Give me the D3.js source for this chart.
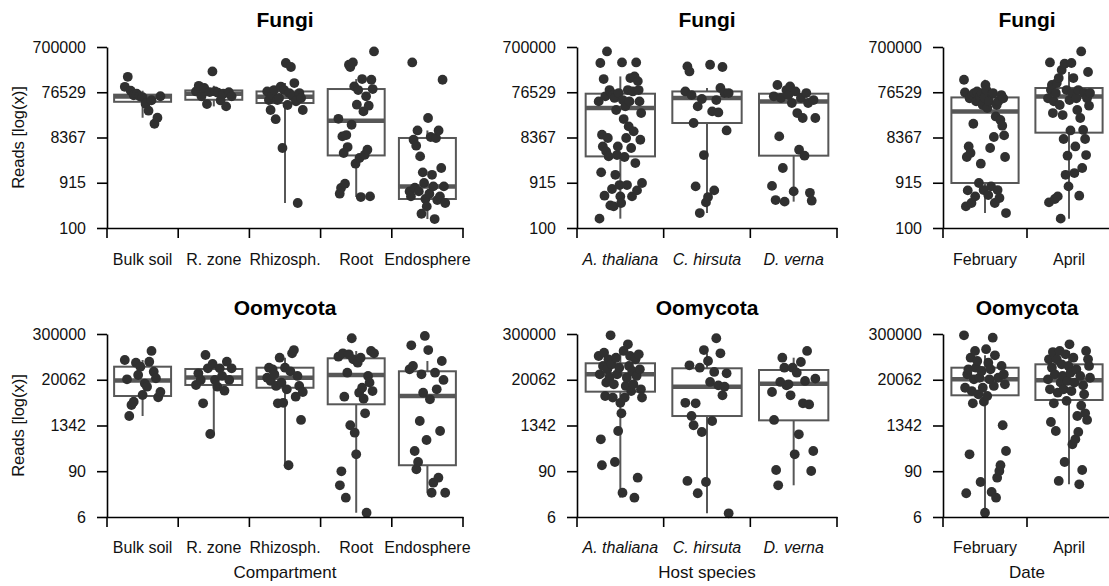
<!DOCTYPE html>
<html><head><meta charset="utf-8">
<script src="https://cdn.jsdelivr.net/npm/d3@7"></script>
<style>
body{margin:0;background:#fff}
svg{display:block}
text{font-family:"Liberation Sans",Arial,Helvetica,sans-serif}
</style>
</head><body>
<svg id="chart" width="1109" height="586"></svg>
<script>
// ---------- categories & tick labels ----------
const compartments = ["Bulk soil","R. zone","Rhizosph.","Root","Endosphere"];
const hosts = ["A. thaliana","C. hirsuta","D. verna"];
const dates = ["February","April"];
const fungiTicks = [100, 915, 8367, 76529, 700000];
const oomyTicks = [6, 90, 1342, 20062, 300000];

// ---------- reads per sample (listed in left-to-right jitter order) ----------
const fungiCompartment = [
  [100000,163000,82400,66000,71200,63000,60000,43600,31000,51700,16400,22000,63000],
  [79700,105000,62700,94200,43000,77000,212000,79700,74800,51300,71200,38300,77000,62700],
  [79600,52300,32100,66800,85300,20500,52300,57700,101000,5000,85300,320000,41000,73600,263000,62700,120000,48900,340,73600,57700,32100],
  [20900,536,708,8830,3920,873,9440,5250,294000,263000,15600,329000,102000,2320,41600,85300,3070,455,146000,30000,3600,62700,4600,39600,469,141000,89600,564000],
  [599,469,329000,7500,718,5600,11800,599,3320,201,1520,904,413,288,21700,536,8570,1350,765,155,8170,392,11800,469,1880,141000,765,340]
];
// box stats: [lower whisker, Q1, median, Q3, upper whisker]
const fungiCompartmentBox = [
  [22000,48000,62000,68000,82400],
  [38300,53000,71000,83600,105000],
  [340,45200,61500,79600,120000],
  [455,3480,19000,89600,146000],
  [155,413,765,8170,11800]
];

const fungiHost = [
  [48900,158,320000,1520,9600,5400,146000,485,62700,4240,564000,8170,3320,85300,302,73600,673,66800,288,58000,1350,32100,3550,5400,73600,817,469,340,329000,52300,20600,3220,38300,8170,817,85300,14400,48900,153000,5000,469,79600,11300,166000,2400,329000,629,132000,85300,48900,7500,27700,904],
  [79600,271000,212000,66800,17000,765,38300,208,55000,3550,350,455,294000,30000,629,52300,28500,94300,263000,73600,11800,73600],
  [784,62700,392,109000,8830,57700,1880,363,85300,66800,102000,45200,599,79600,27700,4600,57700,21700,3440,73600,45200,560,380,52300,21700]
];
const fungiHostBox = [
  [158,3320,35400,71300,166000],
  [208,17000,57700,79600,94300],
  [363,3440,48900,71300,109000]
];

const fungiDate = [
  [141000,75900,288,3220,629,5400,56900,3920,340,66800,16400,73600,469,48900,79600,52300,904,62000,2320,73600,41000,640,59000,109000,85300,35400,500,48900,5000,765,70000,73600,8570,340,23400,41000,640,50000,434,19700,66800,14900,56900,9270,3220,208],
  [56900,350,329000,85300,109000,27700,48900,413,73600,120000,469,153000,41000,158,227000,25100,7770,309000,1350,85300,3440,765,52300,11800,320000,73600,153000,1470,5400,56900,32100,85300,485,21700,564000,1880,12100,73600,7770,3550,56900,206000,39600,73600]
];
const fungiDateBox = [
  [208,904,30000,59400,141000],
  [158,10600,62400,94200,206000]
];

const oomyCompartment = [
  [64500,20600,2350,4510,5480,55000,26600,43400,8150,16000,13300,58300,110000,32300,21900,7110,9730],
  [14700,29400,19800,4990,86700,39500,811,50900,19800,13300,39500,25100,10500,58300,19800,39500],
  [22600,40900,18700,37200,27700,13900,4990,73900,16900,5130,40900,11400,128,33000,95900,116000,7360,25100,13900,1860,9730],
  [78500,39.1,89.5,95900,7360,18.8,30500,90400,1360,233000,67300,877,244,55000,9330,73900,12500,6550,2760,7.72,25100,16900,110000,10300,95900],
  [37200,154000,45300,297,101,155,1750,27700,9330,267000,569,116000,6310,25.2,45.6,30500,11400,61.2,968,60800,19800,25.2]
];
const oomyCompartmentBox = [
  [2350,7670,19200,43400,64500],
  [811,14700,22900,37900,58300],
  [128,12500,22600,40900,73900],
  [7.72,4700,26600,71300,110000],
  [25.2,128,7670,33100,60800]
];

const oomyHost = [
  [81700,27700,593,128,45300,99400,7670,16900,37200,67300,22600,278000,50000,7000,15300,155,73900,27700,968,40900,5130,2760,25.2,110000,7000,13900,22600,163000,45300,81700,10300,33700,15300,18.8,67300,25100,61.2,90400,37200,11400,7000],
  [5130,50.5,47200,2350,1360,4990,24.4,40900,914,116000,47.5,60800,17600,1750,31800,233000,14400,95900,8000,13300,29400,7.46],
  [9730,1860,96.6,39.1,17600,73900,40900,14400,15300,8000,40900,244,30500,798,57300,4990,18700,110000,4660,91,297,21400]
];
const oomyHostBox = [
  [18.8,9910,27700,53100,110000],
  [7.46,2350,13300,39500,95900],
  [39.1,1820,15900,35700,73900]
];

const oomyDate = [
  [278000,12500,24.4,27700,37200,244,73900,10300,4990,20600,110000,40900,60800,8490,22600,47.5,33700,12500,5500,7.72,122000,7670,55000,20600,37200,26.4,241000,13900,85100,18.8,61.2,22600,91,128,45300,1360,27700,15300,297],
  [20600,67300,11400,1650,40900,103000,4990,27700,968,67300,9330,50.5,110000,16900,50000,25100,11400,155,90400,5760,18700,45300,163000,30500,10300,441,73900,16900,593,37200,2350,914,41.5,25100,4350,96.6,14400,8490,2760,110000,1860,67300,45300,22600]
];
const oomyDateBox = [
  [7.72,8000,20600,40900,85100],
  [41.5,6060,19400,50000,110000]
];

// ---------- layout ----------
const svg = d3.select("#chart");
const FONT = '"Liberation Sans",Arial,Helvetica,sans-serif';
const BOX_COL = "#575757", PT_COL = "#303030";

const rows = {
  fungi: {domain:[100,700000], range:[228,47], ticks:fungiTicks, title:"Fungi", titleY:27, labelDy:37, xTitle:false},
  oomy:  {domain:[6,300000],   range:[517,334], ticks:oomyTicks, title:"Oomycota", titleY:315, labelDy:36.5, xTitle:true}
};
const cols = [
  {x0:107, x1:463, cats:compartments, xTitle:"Compartment", italic:false, yTitle:true},
  {x0:577, x1:837, cats:hosts, xTitle:"Host species", italic:true, yTitle:false},
  {x0:943, x1:1111, cats:dates, xTitle:"Date", italic:false, yTitle:false}
];
const panels = [
  {row:"fungi", col:0, pts:fungiCompartment, box:fungiCompartmentBox},
  {row:"fungi", col:1, pts:fungiHost, box:fungiHostBox},
  {row:"fungi", col:2, pts:fungiDate, box:fungiDateBox},
  {row:"oomy", col:0, pts:oomyCompartment, box:oomyCompartmentBox},
  {row:"oomy", col:1, pts:oomyHost, box:oomyHostBox},
  {row:"oomy", col:2, pts:oomyDate, box:oomyDateBox}
];

panels.forEach(p => {
  const R = rows[p.row], C = cols[p.col];
  const x = d3.scaleBand().domain(C.cats).range([C.x0, C.x1]).padding(0);
  const y = d3.scaleLog().domain(R.domain).range(R.range);
  const bw = x.bandwidth();
  const g = svg.append("g");
  const yBottom = R.range[0], yTop = R.range[1];

  // boxes
  C.cats.forEach((cat, ci) => {
    const [lo, q1, med, q3, hi] = p.box[ci];
    const cx = x(cat) + bw / 2;
    const half = bw * 0.4;
    const bg = g.append("g");
    bg.append("line").attr("x1", cx).attr("x2", cx).attr("y1", y(q1)).attr("y2", y(lo))
      .attr("stroke", BOX_COL).attr("stroke-width", 2);
    bg.append("line").attr("x1", cx).attr("x2", cx).attr("y1", y(q3)).attr("y2", y(hi))
      .attr("stroke", BOX_COL).attr("stroke-width", 2);
    bg.append("rect").attr("x", cx - half).attr("width", 2 * half)
      .attr("y", y(q3)).attr("height", Math.max(0.5, y(q1) - y(q3)))
      .attr("fill", "#fff").attr("stroke", BOX_COL).attr("stroke-width", 2);
    bg.append("line").attr("x1", cx - half).attr("x2", cx + half).attr("y1", y(med)).attr("y2", y(med))
      .attr("stroke", BOX_COL).attr("stroke-width", 4.5);
  });

  // jittered points
  C.cats.forEach((cat, ci) => {
    const vals = p.pts[ci];
    const n = vals.length;
    const cx = x(cat) + bw / 2;
    g.append("g").selectAll("circle").data(vals).join("circle")
      .attr("cx", (d, i) => cx + (n > 1 ? (i / (n - 1) - 0.5) : 0) * 0.5 * bw)
      .attr("cy", d => y(d))
      .attr("r", 4.9)
      .attr("fill", PT_COL);
  });

  // y axis
  const ya = g.append("g").attr("transform", `translate(${C.x0},0)`)
    .call(d3.axisLeft(y).tickValues(R.ticks).tickFormat(d => String(d))
      .tickSizeInner(10).tickSizeOuter(0).tickPadding(11));
  ya.select(".domain").attr("stroke", "#000").attr("stroke-width", 1.6);
  ya.selectAll(".tick line").attr("stroke", "#000").attr("stroke-width", 1.6);
  ya.selectAll(".tick text").attr("font-size", 16).attr("font-family", FONT).attr("fill", "#111");

  // x axis: labels at band centres, ticks at band boundaries
  const xa = g.append("g").attr("transform", `translate(0,${yBottom})`)
    .call(d3.axisBottom(x).tickSizeInner(0).tickSizeOuter(0).tickPadding(R.labelDy - 11.4));
  xa.select(".domain").attr("stroke", "#000").attr("stroke-width", 1.6);
  xa.selectAll(".tick line").remove();
  xa.selectAll(".tick text").attr("font-size", 16).attr("font-family", FONT).attr("fill", "#111")
    .attr("font-style", C.italic ? "italic" : "normal");
  const bounds = C.cats.map(c => x(c)).concat([x.range()[1]]);
  xa.selectAll("line.bound").data(bounds).join("line").attr("class", "bound")
    .attr("x1", d => d).attr("x2", d => d).attr("y1", 0).attr("y2", 10)
    .attr("stroke", "#000").attr("stroke-width", 1.6);

  // panel title
  g.append("text").attr("x", (C.x0 + C.x1) / 2).attr("y", R.titleY)
    .attr("text-anchor", "middle").attr("font-size", 21).attr("font-weight", "bold")
    .attr("fill", "#000").text(R.title);

  // axis titles
  if (C.yTitle) {
    g.append("text")
      .attr("transform", `translate(24,${(yTop + yBottom) / 2}) rotate(-90)`)
      .attr("text-anchor", "middle").attr("font-size", 16.5).attr("fill", "#111")
      .text("Reads [log(x)]");
  }
  if (R.xTitle) {
    g.append("text").attr("x", (C.x0 + C.x1) / 2).attr("y", yBottom + 61)
      .attr("text-anchor", "middle").attr("font-size", 17).attr("fill", "#111")
      .text(C.xTitle);
  }
});
</script>
</body></html>
